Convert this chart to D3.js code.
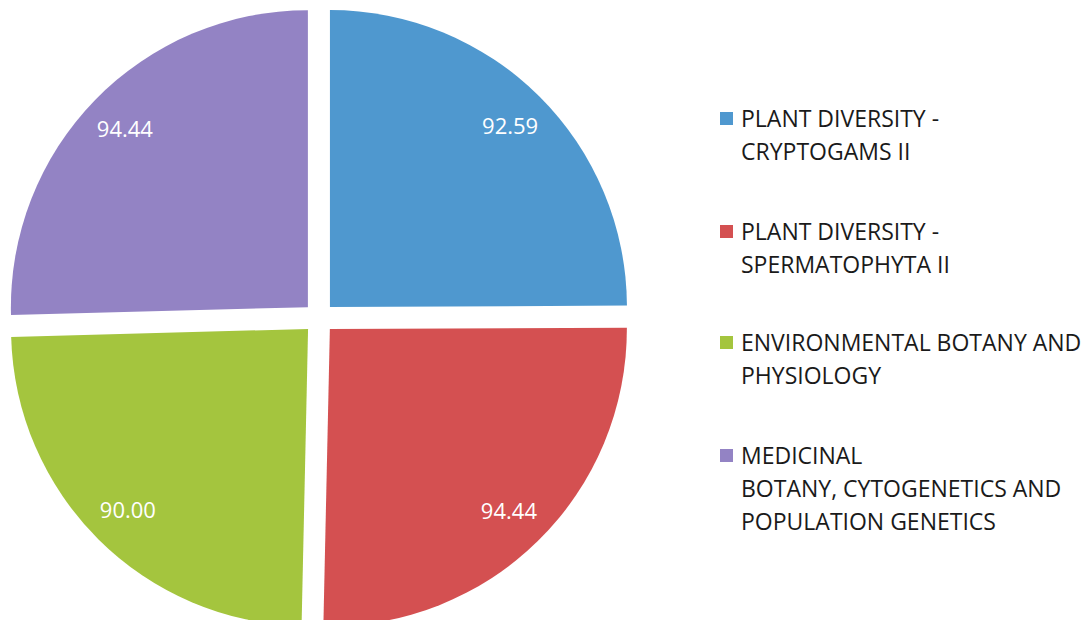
<!DOCTYPE html>
<html>
<head>
<meta charset="utf-8">
<script src="https://cdn.jsdelivr.net/npm/d3@7"></script>
<style>
  html, body { margin: 0; padding: 0; background: #fff; }
  svg { display: block; }
</style>
</head>
<body>
<div id="chart"></div>
<script>
// 数据
const categories = [
    ['PLANT DIVERSITY -', 'CRYPTOGAMS II'],
    ['PLANT DIVERSITY -', 'SPERMATOPHYTA II'],
    ['ENVIRONMENTAL BOTANY AND', 'PHYSIOLOGY'],
    ['MEDICINAL', 'BOTANY, CYTOGENETICS AND', 'POPULATION GENETICS']
];
const values = [92.59, 94.44, 90.00, 94.44];
const labels = ['92.59', '94.44', '90.00', '94.44'];
const colors = ['#4f98cf', '#d45051', '#a4c53e', '#9383c4'];

const width = 1088;
const height = 620;
const cx = 319, cy = 318;
const radius = 297;
const explode = 15.5;

const svg = d3.select('#chart').append('svg')
    .attr('width', width)
    .attr('height', height);

const g = svg.append('g')
    .attr('transform', `translate(${cx},${cy})`);

const pie = d3.pie().sort(null).value(d => d);
const arcs = pie(values);

const arc = d3.arc().innerRadius(0).outerRadius(radius);
const labelArc = d3.arc().innerRadius(radius * 0.86).outerRadius(radius * 0.86);

// 扇区（分离）
const slices = g.selectAll('.slice')
    .data(arcs)
    .enter()
    .append('g')
    .attr('class', 'slice')
    .attr('transform', d => {
        const a = (d.startAngle + d.endAngle) / 2;
        return `translate(${explode * Math.sin(a)},${-explode * Math.cos(a)})`;
    });

slices.append('path')
    .attr('d', arc)
    .style('fill', (d, i) => colors[i]);

slices.append('text')
    .attr('transform', d => `translate(${labelArc.centroid(d)})`)
    .attr('text-anchor', 'middle')
    .attr('dy', '0.36em')
    .style('font-family', '"Open Sans", sans-serif')
    .style('font-size', '22px')
    .style('fill', '#fff')
    .text((d, i) => labels[i]);

// 图例
const legendX = 720;
const legendY = [127, 240, 351, 464];
const lineH = 33;

const legend = svg.append('g')
    .selectAll('.legend-item')
    .data(categories)
    .enter()
    .append('g')
    .attr('class', 'legend-item')
    .attr('transform', (d, i) => `translate(${legendX},${legendY[i]})`);

legend.append('rect')
    .attr('x', 0)
    .attr('y', -15)
    .attr('width', 13)
    .attr('height', 13)
    .style('fill', (d, i) => colors[i]);

legend.append('text')
    .style('font-family', '"Open Sans", sans-serif')
    .style('font-size', '23px')
    .style('fill', '#1a1a1a')
    .selectAll('tspan')
    .data(d => d)
    .enter()
    .append('tspan')
    .attr('x', 21)
    .attr('y', (d, i) => i * lineH)
    .text(d => d);
</script>
</body>
</html>
